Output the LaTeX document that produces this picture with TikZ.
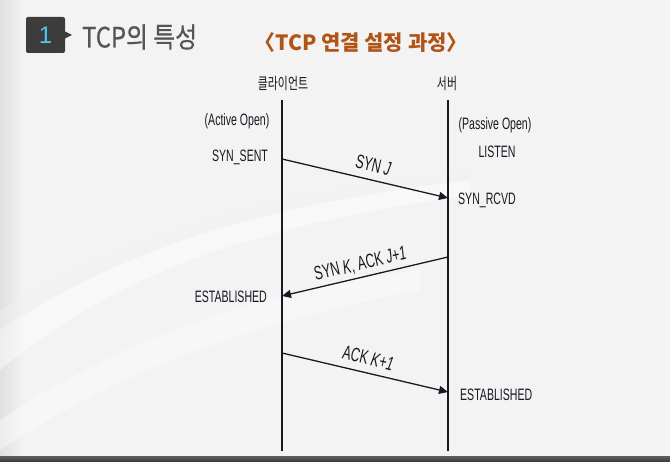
\documentclass[tikz,border=0pt]{standalone}
\usepackage{fontspec}
\setmainfont{Liberation Sans}
\newfontfamily\narrowfont[FakeStretch=0.64]{Liberation Sans}
\newfontfamily\krnarrow[FakeStretch=0.68]{Noto Sans CJK KR}
\newfontfamily\krtitle[FakeStretch=0.85,FakeBold=0.6]{Noto Sans CJK KR}
\newfontfamily\krsub{Noto Sans CJK KR}
\usetikzlibrary{positioning,arrows.meta}
\definecolor{slidebg}{RGB}{243,243,243}
\definecolor{slidebar}{RGB}{58,58,58}
\definecolor{boxdark}{RGB}{60,60,60}
\definecolor{numcyan}{RGB}{80,200,235}
\definecolor{titlegray}{RGB}{85,85,85}
\definecolor{subbrown}{RGB}{176,84,24}
\definecolor{inkdark}{RGB}{25,25,35}

\tikzset{
  lifeline/.style={line width=2pt,inkdark},
  msg/.style={line width=1.3pt,inkdark,-{Triangle[length=9pt,width=8pt]}},
  state/.style={inkdark,font=\narrowfont\fontsize{16.5}{18}\selectfont,inner sep=0pt},
  msglabel/.style={inkdark,font=\narrowfont\fontsize{19.5}{21}\selectfont,inner sep=0pt,sloped,above=7pt},
  who/.style={inkdark,font=\krnarrow\fontsize{16}{18}\selectfont,inner sep=0pt}
}

\begin{document}
\begin{tikzpicture}[x=1pt,y=-1pt]
% Background
\fill[slidebg] (0,0) rectangle (670,462);
\shade[left color=black!12,right color=slidebg] (0,0) rectangle (25,457);
\fill[white,opacity=0.45] (0,330) .. controls (120,250) and (260,205) .. (470,180)
  -- (470,195) .. controls (260,225) and (120,270) .. (0,370) -- cycle;
\fill[white,opacity=0.4] (0,420) .. controls (120,340) and (260,290) .. (420,270)
  -- (420,290) .. controls (260,320) and (120,370) .. (0,450) -- cycle;
\fill[black!5,opacity=0.4] (0,310) .. controls (120,235) and (260,190) .. (470,170)
  -- (470,180) .. controls (260,205) and (120,250) .. (0,330) -- cycle;
\shade[top color=black!65,bottom color=slidebar] (0,457) rectangle (670,462);

% Header
\fill[boxdark,rounded corners=2pt] (26,17) rectangle (65,53);
\fill[boxdark] (64,31) -- (72,35) -- (64,39) -- cycle;
\node[numcyan,font=\fontsize{24}{26}\selectfont] (num) at (45.5,35.5) {1};
\node[titlegray,anchor=west,inner sep=0pt,font=\krtitle\fontsize{28}{30}\selectfont] (title) at (82,37) {TCP의 특성};
\node[subbrown,inner sep=0pt,font=\krsub\bfseries\fontsize{21}{23}\selectfont] (sub) at (361,43) {〈TCP 연결 설정 과정〉};

% Hosts
\node[who] (client) at (283,84) {클라이언트};
\node[who] (server) at (447,84) {서버};

% Lifelines
\coordinate (ctop) at (282,100);
\coordinate (cbot) at (282,451);
\coordinate (stop) at (448,100);
\coordinate (sbot) at (448,451);
\draw[lifeline] (ctop) -- (cbot);
\draw[lifeline] (stop) -- (sbot);

% States
\node[state] (active) at (237,121) {(Active Open)};
\node[state] (sent) at (240,157) {SYN\_SENT};
\node[state] (passive) at (495,125) {(Passive Open)};
\node[state] (listen) at (497,152) {LISTEN};
\node[state,anchor=west] (rcvd) at (458,200) {SYN\_RCVD};
\node[state,anchor=east] (estc) at (267,297) {ESTABLISHED};
\node[state,anchor=west] (ests) at (460,395) {ESTABLISHED};

% Handshake
\coordinate (c1) at (282,159);
\coordinate (s1) at (448,198);
\coordinate (s2) at (448,257);
\coordinate (c2) at (282,296);
\coordinate (c3) at (282,353);
\coordinate (s3) at (448,392);
\draw[msg] (c1) -- node[msglabel,pos=0.53] (m1) {SYN \textit{J}} (s1);
\draw[msg] (s2) -- node[msglabel,pos=0.51,above=4pt] (m2) {SYN \textit{K}, ACK \textit{J+1}} (c2);
\draw[msg] (c3) -- node[msglabel,pos=0.5] (m3) {ACK \textit{K+1}} (s3);

\useasboundingbox (0,0) rectangle (670,462);
\end{tikzpicture}
\end{document}
